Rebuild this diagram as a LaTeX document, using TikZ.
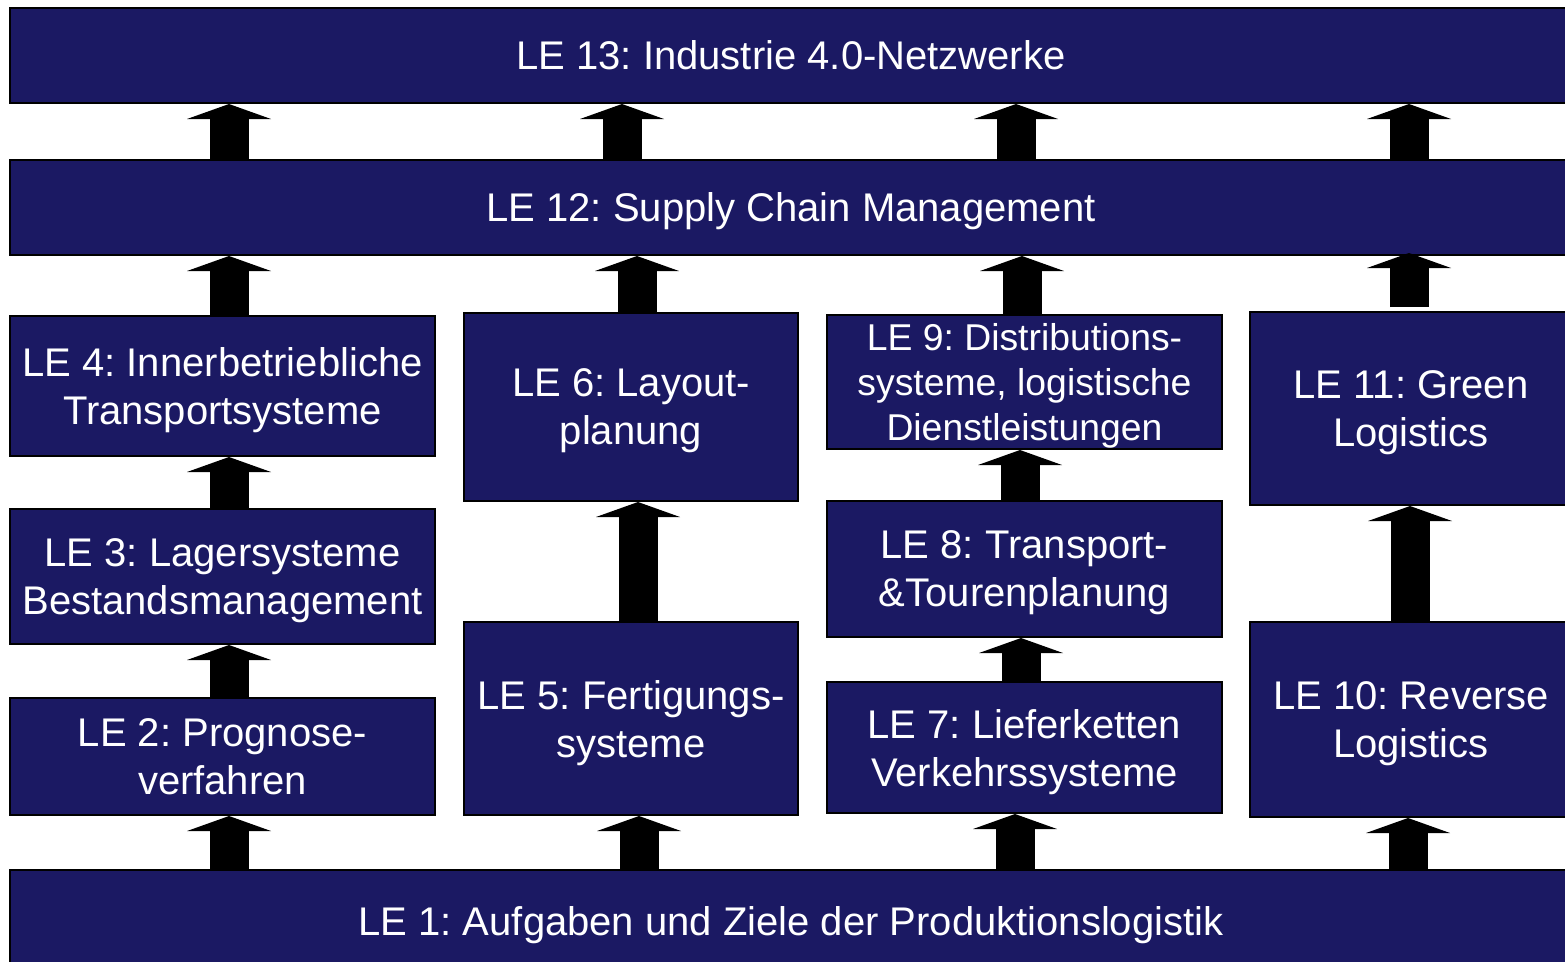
\documentclass[tikz,border=0pt]{standalone}
\usepackage{fontspec}
\setmainfont{Liberation Sans}
\frenchspacing
\usetikzlibrary{arrows.meta}
\definecolor{navy}{RGB}{27,25,99}
\begin{document}
\begin{tikzpicture}[x=0.75pt,y=-0.75pt,
  lebox/.style={draw=black, line width=1.5pt, fill=navy, inner sep=0pt,
    text=white, align=center, font=\fontsize{30}{36}\selectfont,
    text depth=0pt},
  span/.style n args={4}{minimum width={(#3-#1)*0.75pt},
    minimum height={(#4-#2)*0.75pt}, at={({(#1+#3)/2},{(#2+#4)/2})}},
  smalltext/.style={font=\fontsize{28}{33.6}\selectfont},
  up/.style={line width=29.25pt, line cap=butt,
    -{Triangle[width=63pt,length=11.25pt,line width=0pt]}}]
\useasboundingbox (0,0) rectangle (1565,961);

\node[lebox, span={10}{8}{1572}{103}] (le13) {LE 13: Industrie 4.0-Netzwerke};
\node[lebox, span={10}{160}{1572}{255}] (le12) {LE 12: Supply Chain Management};
\node[lebox, span={10}{316}{435}{456}] (le4) {LE 4: Innerbetriebliche\\Transportsysteme};
\node[lebox, span={10}{509}{435}{644}] (le3) {LE 3: Lagersysteme\\Bestandsmanagement};
\node[lebox, span={10}{698}{435}{815}] (le2) {LE 2: Prognose-\\verfahren};
\node[lebox, span={464}{313}{798}{501}] (le6) {LE 6: Layout-\\planung};
\node[lebox, span={464}{622}{798}{815}] (le5) {LE 5: Fertigungs-\\systeme};
\node[lebox, smalltext, span={827}{315}{1222}{449}] (le9) {LE 9: Distributions-\\systeme, logistische\\Dienstleistungen};
\node[lebox, span={827}{501}{1222}{637}] (le8) {LE 8: Transport-\\\&Tourenplanung};
\node[lebox, span={827}{682}{1222}{813}] (le7) {LE 7: Lieferketten\\Verkehrssysteme};
\node[lebox, span={1250}{312}{1572}{505}] (le11) {LE 11: Green\\Logistics};
\node[lebox, span={1250}{622}{1572}{817}] (le10) {LE 10: Reverse\\Logistics};
\node[lebox, span={10}{870}{1572}{972}] (le1) {LE 1: Aufgaben und Ziele der Produktionslogistik};

% LE 12 -> LE 13
\draw[up] (229,0 |- le12.north) -- (229,0 |- le13.south);
\draw[up] (622,0 |- le12.north) -- (622,0 |- le13.south);
\draw[up] (1016,0 |- le12.north) -- (1016,0 |- le13.south);
\draw[up] (1409,0 |- le12.north) -- (1409,0 |- le13.south);
% column 1
\draw[up] (229,0 |- le4.north) -- (229,0 |- le12.south);
\draw[up] (229,0 |- le3.north) -- (229,0 |- le4.south);
\draw[up] (229,0 |- le2.north) -- (229,0 |- le3.south);
\draw[up] (229,0 |- le1.north) -- (229,0 |- le2.south);
% column 2
\draw[up] (637,0 |- le6.north) -- (637,0 |- le12.south);
\draw[up] (638,0 |- le5.north) -- (638,0 |- le6.south);
\draw[up] (639,0 |- le1.north) -- (639,0 |- le5.south);
% column 3
\draw[up] (1022,0 |- le9.north) -- (1022,0 |- le12.south);
\draw[up] (1020,0 |- le8.north) -- (1020,0 |- le9.south);
\draw[up] (1021,0 |- le7.north) -- (1021,0 |- le8.south);
\draw[up] (1015,0 |- le1.north) -- (1015,0 |- le7.south);
% column 4
\draw[up] ([yshift=3pt]1409,0 |- le11.north) -- ([yshift=2.25pt]1409,0 |- le12.south);
\draw[up] (1410,0 |- le10.north) -- (1410,0 |- le11.south);
\draw[up] (1408,0 |- le1.north) -- (1408,0 |- le10.south);
\end{tikzpicture}
\end{document}
